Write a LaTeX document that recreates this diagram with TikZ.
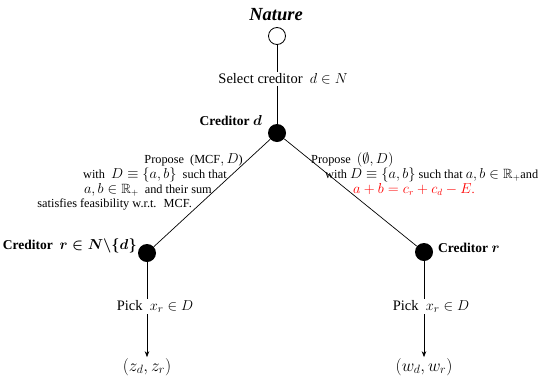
\documentclass[tikz,border=0pt]{standalone}
\usepackage{fontspec}
\setmainfont{Liberation Serif}
\usepackage{amssymb}
\usetikzlibrary{arrows.meta}
\DeclareMathSizes{12.3}{13.4}{9.5}{7}
\DeclareMathSizes{13.5}{14.3}{10.5}{8}
\DeclareMathSizes{14.5}{15}{11}{8}
\DeclareMathSizes{14}{17}{12.5}{9}
\begin{document}
\begin{tikzpicture}[x=1pt,y=-1pt,
  opennode/.style={circle,draw,line width=0.8pt,minimum size=17pt,inner sep=0pt},
  fullnode/.style={circle,fill=black,minimum size=18pt,inner sep=0pt},
  mainlbl/.style={font=\fontsize{14.5}{16}\selectfont,inner sep=1.5pt},
  outlbl/.style={font=\fontsize{14}{16}\selectfont,inner sep=1pt},
  smalllbl/.style={font=\fontsize{12.3}{14}\selectfont,inner sep=0pt,text height=8.5pt,text depth=2.5pt},
  bolllbl/.style={font=\fontsize{13.5}{15}\selectfont\bfseries\boldmath,inner sep=0pt},
  edge/.style={line width=0.7pt},
  arr/.style={line width=0.7pt,-{Stealth[length=6pt,width=4.5pt]}}]
\useasboundingbox (0,0) rectangle (545,378);
\node[font=\fontsize{18.5}{20}\selectfont\bfseries\itshape] (naturelbl) at (276,15) {Nature};
\node[opennode] (nature) at (277,36) {};
\node[fullnode] (cd) at (277,133) {};
\node[fullnode] (cl) at (147,253) {};
\node[fullnode] (cr) at (424,252) {};
\node[bolllbl,anchor=east] (cdlbl) at (262,121) {Creditor $d$};
\node[bolllbl,anchor=east] (cllbl) at (137,246) {Creditor \ $r\in N\backslash\{d\}$};
\node[bolllbl,anchor=west] (crlbl) at (438,248) {Creditor $r$};
\node[outlbl] (zout) at (147,367) {$(z_d,z_r)$};
\node[outlbl] (wout) at (424,367) {$(w_d,w_r)$};
\draw[edge] (nature) -- node[mainlbl,fill=white,pos=0.43,xshift=6pt]{Select creditor \ $d\in N$} (cd);
\draw[edge] (cd) -- (cl);
\draw[edge] (cd) -- (cr);
\draw[arr] (cl) -- node[mainlbl,fill=white,pos=0.47,xshift=8pt]{Pick \ $x_r\in D$} (zout);
\draw[arr] (cr) -- node[mainlbl,fill=white,pos=0.47,xshift=7pt]{Pick \ $x_r\in D$} (wout);
% left edge text
\node[smalllbl,anchor=east] (l1) at (243,160) {Propose \ (MCF$,D$)};
\node[smalllbl,anchor=east] (l2) at (227,175) {with \ $D\equiv\{a,b\}$ \ such that};
\node[smalllbl,anchor=east] (l3) at (212,190) {$a,b\in\mathbb{R}_+$ \ and their sum};
\node[smalllbl,anchor=east] (l4) at (192,204) {satisfies feasibility w.r.t. \ MCF.};
% right edge text
\node[smalllbl,anchor=west] (r1) at (311,160) {Propose \ $(\emptyset,D)$};
\node[smalllbl,anchor=west] (r2) at (325,175) {with $D\equiv\{a,b\}$ such that $a,b\in\mathbb{R}_+$and};
\node[smalllbl,anchor=west,text=red] (r3) at (353,190) {$a+b=c_r+c_d-E$.};
\end{tikzpicture}
\end{document}
